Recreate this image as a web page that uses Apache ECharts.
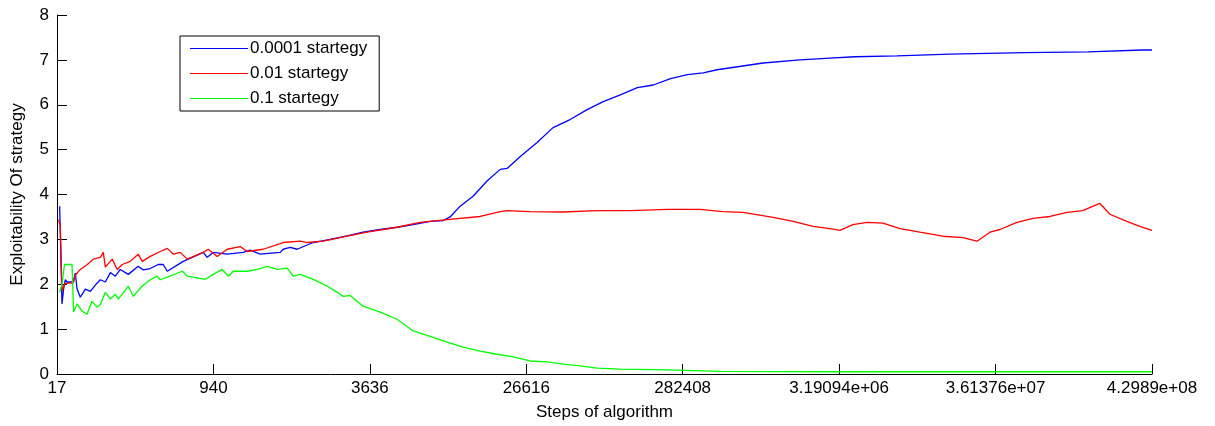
<!DOCTYPE html>
<html>
<head>
<meta charset="utf-8">
<script src="https://cdn.jsdelivr.net/npm/echarts@6/dist/echarts.min.js"></script>
<style>
html,body{margin:0;padding:0;background:#fff;}
#chart{width:1215px;height:426px;}
</style>
</head>
<body>
<div id="chart"></div>
<script>
// x = position along the step axis, in hundredths of a tick interval (tick i at x = 100*i)
const tickLabels = ['17', '940', '3636', '26616', '282408', '3.19094e+06', '3.61376e+07', '4.2989e+08'];
const seriesNames = ['0.0001 startegy', '0.01 startegy', '0.1 startegy'];

const blueData = [
  [1.7,3.74],[2.1,3.15],[3.2,1.56],[4.2,1.89],[5.3,2.1],[6.4,2.05],[10.4,2.05],[11.7,2.25],[12.8,1.9],[14.9,1.71],
  [18.1,1.89],[21.3,1.84],[24.5,1.98],[27.7,2.1],[30.9,2.05],[34.1,2.26],[37.3,2.18],[40.4,2.33],[45.6,2.22],[51.9,2.4],
  [55.1,2.32],[59.6,2.35],[64.7,2.44],[67.9,2.44],[70.5,2.29],[80.7,2.51],[93.5,2.71],[96.0,2.6],[99.9,2.71],[108.8,2.67],
  [119.0,2.71],[123.5,2.76],[129.9,2.67],[142.7,2.71],[144.6,2.78],[149.1,2.82],[153.5,2.78],[163.8,2.93],[174.6,3.0],[185.5,3.08],
  [195.7,3.16],[206.6,3.22],[217.4,3.27],[227.7,3.33],[238.5,3.40],[246.9,3.42],[251.3,3.5],[257.7,3.74],[266.0,3.96],[274.9,4.3],
  [283.3,4.56],[287.7,4.58],[296.0,4.84],[306.9,5.16],[317.1,5.49],[328.0,5.67],[338.9,5.89],[349.2,6.07],[360.1,6.22],[371.0,6.38],
  [381.2,6.44],[392.2,6.58],[403.0,6.67],[413.1,6.71],[422.0,6.78],[451.4,6.93],[475.0,7.0],[494.2,7.04],[510.1,7.07],[537.0,7.09],
  [570.8,7.13],[618.8,7.16],[659.0,7.18],[694.1,7.22],[700,7.22]
];
const redData = [
  [1.0,3.44],[2.1,3.3],[3.2,1.85],[4.2,1.95],[5.3,2.02],[10.4,2.03],[11.7,2.2],[14.9,2.33],[19.4,2.44],[23.2,2.56],
  [27.7,2.6],[29.6,2.71],[30.9,2.38],[35.3,2.56],[38.5,2.33],[41.7,2.44],[46.8,2.51],[51.9,2.67],[54.5,2.51],[59.6,2.62],
  [66.0,2.73],[70.5,2.8],[74.3,2.67],[78.8,2.71],[83.3,2.56],[93.5,2.71],[96.7,2.78],[102.4,2.62],[108.8,2.78],[117.1,2.84],
  [121.6,2.73],[131.8,2.78],[144.6,2.93],[155.5,2.96],[159.9,2.93],[170.2,2.96],[185.5,3.07],[198.3,3.16],[217.4,3.27],[232.1,3.38],
  [249.4,3.44],[270.5,3.51],[283.3,3.62],[287.7,3.64],[302.4,3.62],[323.5,3.61],[345.3,3.64],[366.5,3.64],[390.2,3.67],[411.1,3.67],
  [425.8,3.62],[438.6,3.60],[457.8,3.49],[470.6,3.40],[483.3,3.29],[494.2,3.24],[500.5,3.20],[508.8,3.33],[517.8,3.38],[528.0,3.36],
  [538.9,3.24],[551.6,3.16],[566.3,3.07],[579.1,3.04],[588.1,2.96],[596.4,3.16],[602.8,3.22],[613.7,3.38],[623.9,3.47],[634.8,3.51],
  [645.7,3.60],[655.8,3.64],[661.6,3.73],[666.7,3.80],[673.1,3.56],[683.9,3.40],[692.2,3.29],[700,3.2]
];
const greenData = [
  [1.7,1.82],[3.2,2.0],[4.8,2.44],[9.6,2.44],[10.6,1.38],[12.8,1.56],[16.0,1.4],[19.2,1.33],[22.4,1.62],[25.6,1.49],
  [27.7,1.55],[30.9,1.82],[34.1,1.67],[37.3,1.78],[39.2,1.67],[45.6,1.96],[48.8,1.73],[54.5,1.96],[59.6,2.1],[64.1,2.18],
  [66.0,2.1],[70.5,2.16],[80.1,2.29],[83.3,2.18],[94.8,2.11],[99.9,2.22],[105.6,2.33],[109.5,2.18],[112.7,2.29],[121.6,2.29],
  [128.0,2.33],[134.4,2.4],[140.8,2.33],[147.1,2.36],[151.0,2.18],[155.5,2.22],[163.8,2.11],[172.7,1.96],[179.1,1.82],[182.9,1.73],
  [187.4,1.75],[195.7,1.51],[206.6,1.38],[217.4,1.22],[227.7,0.96],[238.5,0.84],[249.4,0.71],[259.6,0.6],[270.5,0.51],[281.3,0.44],
  [291.6,0.38],[302.4,0.29],[313.3,0.27],[323.5,0.22],[334.4,0.18],[345.3,0.13],[360.1,0.11],[390.2,0.09],[424.0,0.06],[500,0.05],
  [700,0.05]
];

const FONT = '"Liberation Sans", Arial, sans-serif';
const chart = echarts.init(document.getElementById('chart'), null, {renderer: 'canvas'});
const mk = (name, data, color) => ({
  name, type: 'line', data, symbol: 'none', showSymbol: false, animation: false,
  lineStyle: {color, width: 1.3}, itemStyle: {color}
});
chart.setOption({
  backgroundColor: '#fff',
  animation: false,
  grid: {left: 57, right: 63, top: 15, bottom: 51},
  legend: {
    orient: 'vertical', left: 180, top: 36,
    backgroundColor: '#fff', borderColor: '#000', borderWidth: 1, borderRadius: 0,
    padding: [4, 12, 4, 10], itemGap: 8, itemWidth: 58, itemHeight: 20,
    textStyle: {fontFamily: FONT, fontSize: 17, color: '#000', padding: [0, 0, 0, -3]},
    data: seriesNames.map(n => ({name: n, icon: 'path://M0,10 L58,10 L58,10.8 L0,10.8 Z'}))
  },
  xAxis: {
    type: 'value', min: 0, max: 700, interval: 100,
    name: 'Steps of algorithm', nameLocation: 'middle', nameGap: 30,
    nameTextStyle: {fontFamily: FONT, fontSize: 17, color: '#000'},
    axisLine: {show: true, onZero: false, lineStyle: {color: '#000', width: 1}},
    axisTick: {show: true, inside: true, length: 10, lineStyle: {color: '#000'}},
    axisLabel: {fontFamily: FONT, fontSize: 17, color: '#000', margin: 6,
      formatter: v => tickLabels[Math.round(v / 100)] || ''},
    splitLine: {show: false}
  },
  yAxis: {
    type: 'value', min: 0, max: 8, interval: 1,
    name: 'Exploitability Of strategy', nameLocation: 'middle', nameGap: 31, nameRotate: 90,
    nameTextStyle: {fontFamily: FONT, fontSize: 17, color: '#000'},
    axisLine: {show: true, lineStyle: {color: '#000', width: 1}},
    axisTick: {show: true, inside: true, length: 10, lineStyle: {color: '#000'}},
    axisLabel: {fontFamily: FONT, fontSize: 17, color: '#000', margin: 8},
    splitLine: {show: false}
  },
  series: [
    mk(seriesNames[0], blueData, '#0000ff'),
    mk(seriesNames[1], redData, '#ff0000'),
    mk(seriesNames[2], greenData, '#00ff00')
  ]
});
</script>
</body>
</html>
